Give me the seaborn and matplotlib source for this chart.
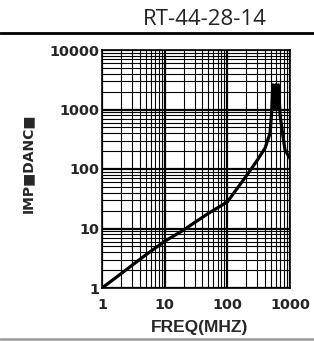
import matplotlib
matplotlib.use("Agg")
import matplotlib.pyplot as plt
from matplotlib.lines import Line2D
from matplotlib.ticker import LogLocator, NullFormatter, FixedLocator, FixedFormatter
import seaborn as sns
import pandas as pd

# impedance curve
freq = [1, 2, 3, 5, 10, 20, 30, 50, 100, 200, 300, 400, 480, 510, 530, 560, 590, 620, 650, 680, 700, 830, 1000]
imp = [1, 1.73, 2.4, 3.6, 6.1, 9.4, 12.6, 18, 28, 76, 140, 225, 400, 900, 2600, 1000, 2600, 1000, 2600, 1200, 750, 210, 150]

x_ticks = [1, 10, 100, 1000]
x_labels = ["1", "10", "100", "1000"]
y_ticks = [1, 10, 100, 1000, 10000]
y_labels = ["1", "10", "100", "1000", "10000"]

title = "RT-44-28-14"
xlab = "FREQ(MHZ)"
ylab = "IMP\u25a0DANC\u25a0"

sns.set_style("white")
plt.rcParams["font.family"] = ["DejaVu Sans"]

df = pd.DataFrame({"freq": freq, "imp": imp})

fig = plt.figure(figsize=(3.14, 3.41), dpi=100)
ax = fig.add_axes([102 / 314, 1 - 288 / 341, 188 / 314, 238 / 341])

sns.lineplot(data=df, x="freq", y="imp", ax=ax, color="black", linewidth=2.3,
             estimator=None, sort=False, zorder=5)

ax.set_xscale("log")
ax.set_yscale("log")
ax.set_xlim(1, 1000)
ax.set_ylim(1, 10000)

ax.xaxis.set_major_locator(FixedLocator(x_ticks))
ax.xaxis.set_major_formatter(FixedFormatter(x_labels))
ax.yaxis.set_major_locator(FixedLocator(y_ticks))
ax.yaxis.set_major_formatter(FixedFormatter(y_labels))
ax.xaxis.set_minor_locator(LogLocator(base=10, subs=range(2, 10)))
ax.yaxis.set_minor_locator(LogLocator(base=10, subs=range(2, 10)))
ax.xaxis.set_minor_formatter(NullFormatter())
ax.yaxis.set_minor_formatter(NullFormatter())

ax.grid(which="major", color="black", linewidth=1.6)
ax.grid(which="minor", color="black", linewidth=0.8)
ax.set_axisbelow(True)
ax.tick_params(which="both", length=0)
ax.tick_params(axis="x", pad=7)
ax.tick_params(axis="y", pad=2)
for lbl in ax.get_xticklabels() + ax.get_yticklabels():
    lbl.set_fontweight("bold")
    lbl.set_fontsize(10.4)

for s in ax.spines.values():
    s.set_color("black")
    s.set_linewidth(1.2)

ax.set_xlabel(xlab, fontsize=12.5, fontweight="bold", family="Liberation Sans")
ax.xaxis.set_label_coords(0.52, -0.135)
ax.set_ylabel(ylab, fontsize=10, fontweight="bold")
ax.yaxis.set_label_coords(-0.356, 0.525)

fig.text(267 / 314, 1 - 25 / 341, title, ha="right", va="baseline",
         fontsize=16, family="Open Sans", color="#222222")
fig.add_artist(Line2D([0, 1], [1 - 33 / 341] * 2, color="black", linewidth=2))
fig.add_artist(Line2D([0, 1], [1 - 339 / 341] * 2, color="#999999", linewidth=1.8))

fig.savefig("out.png", dpi=100)
